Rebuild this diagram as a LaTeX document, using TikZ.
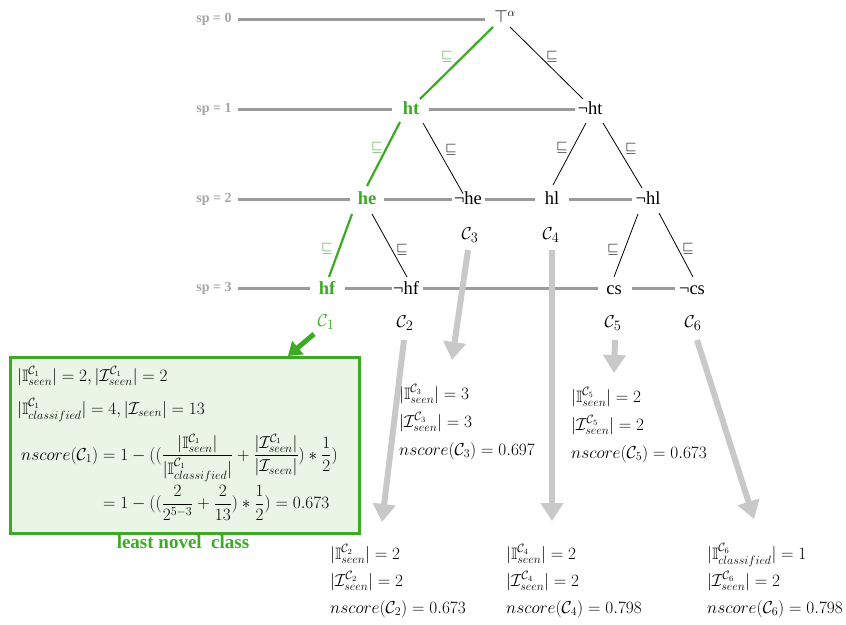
\documentclass[tikz,border=0pt]{standalone}
\usepackage{amsmath,amssymb}
\usepackage{fontspec}
\setmainfont{Liberation Serif}
\usetikzlibrary{arrows.meta,calc}
\definecolor{lgreen}{RGB}{60,170,35}
\definecolor{boxfill}{RGB}{233,246,230}
\definecolor{lvl}{RGB}{155,155,155}
\definecolor{splab}{RGB}{165,165,165}
\definecolor{arr}{RGB}{200,200,200}
\begin{document}
\begin{tikzpicture}[x=1pt,y=-1pt,
 tn/.style={inner sep=0pt, text height=12.5pt, text depth=0pt, font=\fontsize{18.5}{18.5}\selectfont},
 gtn/.style={tn, text=lgreen, font=\fontsize{18.5}{18.5}\selectfont\bfseries},
 splabel/.style={inner sep=0pt, text=splab, font=\fontsize{14}{14}\selectfont\bfseries},
 lvline/.style={draw=lvl, line width=3pt},
 edge/.style={draw=black, line width=0.8pt},
 gedge/.style={draw=lgreen, line width=2.2pt},
 sq/.style={inner sep=0pt, font=\fontsize{15}{15}\selectfont},
 gsq/.style={sq, text=lgreen},
 clab/.style={inner sep=0pt, font=\fontsize{19}{19}\selectfont},
 garrow/.style={draw=arr, line width=6pt, -{Triangle[length=18pt,width=22pt]}},
 grarrow/.style={draw=lgreen, line width=5pt, -{Triangle[length=13pt,width=17pt]}},
 mline/.style={inner sep=0pt, anchor=base west, font=\fontsize{16.5}{16.5}\selectfont},
 gboxst/.style={draw=lgreen, fill=boxfill, line width=2.5pt, inner sep=0pt, anchor=north west},
]
\useasboundingbox (0,0) rectangle (846,624);

% sp labels
\node[splabel] (sp0) at (214,19) {sp = 0};
\node[splabel] (sp1) at (214,109) {sp = 1};
\node[splabel] (sp2) at (214,199) {sp = 2};
\node[splabel] (sp3) at (214,288) {sp = 3};

% tree nodes
\node[tn] (top) at (505,16.5) {$\top^{\alpha}$};
\node[gtn] (ht) at (411,108) {ht};
\node[tn] (nht) at (590,108) {¬ht};
\node[gtn] (he) at (367,198.5) {he};
\node[tn] (nhe) at (468,198.5) {¬he};
\node[tn] (hl) at (552,198.5) {hl};
\node[tn] (nhl) at (648,198.5) {¬hl};
\node[gtn] (hf) at (327,288) {hf};
\node[tn] (nhf) at (406,288) {¬hf};
\node[tn] (cs) at (614,288) {cs};
\node[tn] (ncs) at (692,288) {¬cs};

% level lines
\draw[lvline] ($(sp0)+(24,0)$) -- ($(top)+(-20,2.5)$);
\draw[lvline] ($(sp1)+(24,0)$) -- ($(ht)+(-19,1)$);
\draw[lvline] ($(ht)+(18,1)$) -- ($(nht)+(-15,1)$);
\draw[lvline] ($(sp2)+(24,0)$) -- ($(he)+(-17,0.5)$);
\draw[lvline] ($(he)+(17,0.5)$) -- ($(nhe)+(-16,0.5)$);
\draw[lvline] ($(nhe)+(17,0.5)$) -- ($(hl)+(-17,0.5)$);
\draw[lvline] ($(hl)+(17,0.5)$) -- ($(nhl)+(-16,0.5)$);
\draw[lvline] ($(sp3)+(24,0)$) -- ($(hf)+(-17,0)$);
\draw[lvline] ($(hf)+(18,0)$) -- ($(nhf)+(-14,0)$);
\draw[lvline] ($(nhf)+(17,0)$) -- ($(cs)+(-16,0)$);
\draw[lvline] ($(cs)+(18,0)$) -- ($(ncs)+(-17,0)$);

% tree edges
\draw[gedge] ($(top)+(-12,10.5)$) -- ($(ht)+(9,-9)$);
\draw[edge] ($(top)+(5,10.5)$) -- ($(nht)+(-7,-9)$);
\draw[gedge] ($(ht)+(-11,14)$) -- ($(he)+(0,-12.5)$);
\draw[edge] ($(ht)+(12,15)$) -- ($(nhe)+(-5,-5)$);
\draw[edge] ($(nht)+(-4,15)$) -- ($(hl)+(1,-13.5)$);
\draw[edge] ($(nht)+(13,15)$) -- ($(nhl)+(-6,-10.5)$);
\draw[gedge] ($(he)+(-15,15.5)$) -- ($(hf)+(2,-11)$);
\draw[edge] ($(he)+(5,15.5)$) -- ($(nhf)+(1,-11)$);
\draw[edge] ($(nhl)+(-10,15.5)$) -- ($(cs)+(0,-11)$);
\draw[edge] ($(nhl)+(11,14.5)$) -- ($(ncs)+(1,-11)$);

% subsumption labels
\node[gsq] (s1) at (447,57) {$\sqsubseteq$};
\node[sq] (s2) at (552,57) {$\sqsubseteq$};
\node[gsq] (s3) at (377,148) {$\sqsubseteq$};
\node[sq] (s4) at (451,150) {$\sqsubseteq$};
\node[sq] (s5) at (562,148) {$\sqsubseteq$};
\node[sq] (s6) at (631,149) {$\sqsubseteq$};
\node[gsq] (s7) at (327,249) {$\sqsubseteq$};
\node[sq] (s8) at (402,250) {$\sqsubseteq$};
\node[sq] (s9) at (613,250) {$\sqsubseteq$};
\node[sq] (s10) at (688,249) {$\sqsubseteq$};

% class labels
\node[clab, text=lgreen] (c1) at (326,322) {$\mathcal{C}_1$};
\node[clab] (c2) at (405,323) {$\mathcal{C}_2$};
\node[clab] (c3) at (470,235) {$\mathcal{C}_3$};
\node[clab] (c4) at (551,235) {$\mathcal{C}_4$};
\node[clab] (c5) at (613,323) {$\mathcal{C}_5$};
\node[clab] (c6) at (693,323) {$\mathcal{C}_6$};

% score blocks
\node[mline] (b3a) at (399,399) {$|\mathbb{I}^{\mathcal{C}_3}_{seen}| = 3$};
\node[mline] (b3b) at (399,427) {$|\mathcal{I}^{\mathcal{C}_3}_{seen}| = 3$};
\node[mline] (b3c) at (399,455) {$nscore(\mathcal{C}_3) = 0.697$};
\node[mline] (b5a) at (571,402) {$|\mathbb{I}^{\mathcal{C}_5}_{seen}| = 2$};
\node[mline] (b5b) at (571,430) {$|\mathcal{I}^{\mathcal{C}_5}_{seen}| = 2$};
\node[mline] (b5c) at (571,458) {$nscore(\mathcal{C}_5) = 0.673$};
\node[mline] (b2a) at (330,559) {$|\mathbb{I}^{\mathcal{C}_2}_{seen}| = 2$};
\node[mline] (b2b) at (330,586) {$|\mathcal{I}^{\mathcal{C}_2}_{seen}| = 2$};
\node[mline] (b2c) at (330,613) {$nscore(\mathcal{C}_2) = 0.673$};
\node[mline] (b4a) at (506,559) {$|\mathbb{I}^{\mathcal{C}_4}_{seen}| = 2$};
\node[mline] (b4b) at (506,586) {$|\mathcal{I}^{\mathcal{C}_4}_{seen}| = 2$};
\node[mline] (b4c) at (506,613) {$nscore(\mathcal{C}_4) = 0.798$};
\node[mline] (b6a) at (707,559) {$|\mathbb{I}^{\mathcal{C}_6}_{classified}| = 1$};
\node[mline] (b6b) at (707,586) {$|\mathcal{I}^{\mathcal{C}_6}_{seen}| = 2$};
\node[mline] (b6c) at (707,613) {$nscore(\mathcal{C}_6) = 0.798$};

% green box
\node[gboxst, minimum width=349pt, minimum height=176pt] (gbox) at (9,356) {};
\node[mline] (g1) at (17,381) {$|\mathbb{I}^{\mathcal{C}_1}_{seen}| = 2, |\mathcal{I}^{\mathcal{C}_1}_{seen}| = 2$};
\node[mline] (g2) at (17,414) {$|\mathbb{I}^{\mathcal{C}_1}_{classified}| = 4, |\mathcal{I}_{seen}| = 13$};
\node[inner sep=0pt, anchor=west, font=\fontsize{16.5}{16.5}\selectfont] (g3) at (21,477) {$\begin{aligned} nscore(\mathcal{C}_1) &= 1-((\frac{|\mathbb{I}^{\mathcal{C}_1}_{seen}|}{|\mathbb{I}^{\mathcal{C}_1}_{classified}|}+\frac{|\mathcal{I}^{\mathcal{C}_1}_{seen}|}{|\mathcal{I}_{seen}|})*\frac{1}{2})\\ &= 1-((\frac{2}{2^{5-3}}+\frac{2}{13})*\frac{1}{2}) = 0.673\end{aligned}$};
\node[inner sep=0pt, anchor=base, text=lgreen, font=\fontsize{19}{19}\selectfont\bfseries] (lnc) at (183,548) {least novel~ class};

% arrows
\draw[garrow] ($(c3)+(-2,15)$) -- ($(b3a.base west)+(53,-39)$);
\draw[garrow] ($(c4)+(1,15)$) -- ($(b4a.base west)+(46,-38)$);
\draw[garrow] ($(c2)+(-1,17)$) -- ($(b2a.base west)+(52,-37)$);
\draw[garrow] ($(c5)+(2,17)$) -- ($(b5a.base west)+(43,-29)$);
\draw[garrow] ($(c6)+(4,17)$) -- ($(b6a.base west)+(47,-40)$);
\draw[grarrow] ($(c1)+(-12,12)$) -- ($(gbox.north west)+(279,0)$);
\end{tikzpicture}
\end{document}
